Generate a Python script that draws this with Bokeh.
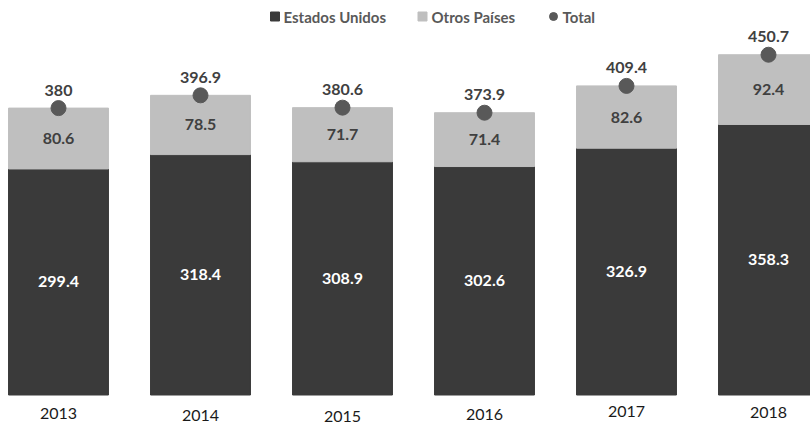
from bokeh.plotting import figure
from bokeh.models import ColumnDataSource, Range1d
from bokeh.core.properties import value
from bokeh.embed import file_html
from bokeh.resources import INLINE

# ---- data ----
years = ["2013", "2014", "2015", "2016", "2017", "2018"]
estados_unidos = [299.4, 318.4, 308.9, 302.6, 326.9, 358.3]
otros_paises = [80.6, 78.5, 71.7, 71.4, 82.6, 92.4]
totales = [380, 396.9, 380.6, 373.9, 409.4, 450.7]

# ---- layout constants ----
W, H = 810, 424
PX_PER_X = 142.0
PX_PER_Y = 0.755
FIRST_CENTER_PX = 58.0
XS = -FIRST_CENTER_PX / PX_PER_X
XE = XS + W / PX_PER_X
BASE_PY = 394.5
YE = BASE_PY / PX_PER_Y
YS = -(H - BASE_PY) / PX_PER_Y


def X(px):
    return XS + px / PX_PER_X


def Y(py):
    return (BASE_PY - py) / PX_PER_Y


DARK = "#3a3a3a"
LIGHT = "#bfbfbf"
DOT = "#595959"
LABEL = "#404040"
FONT = "Lato"

idx = list(range(len(years)))
src = ColumnDataSource(dict(
    x=idx,
    us=estados_unidos,
    otros=otros_paises,
    total=totales,
    us_mid=[u / 2 for u in estados_unidos],
    ot_mid=[u + o / 2 for u, o in zip(estados_unidos, otros_paises)],
    us_lbl=[f"{v:g}" for v in estados_unidos],
    ot_lbl=[f"{v:g}" for v in otros_paises],
    tot_lbl=[f"{v:g}" for v in totales],
))

p = figure(width=W, height=H, output_backend="svg", toolbar_location=None,
           x_range=Range1d(XS, XE), y_range=Range1d(YS, YE),
           x_axis_location=None, y_axis_location=None, min_border=0)
p.grid.visible = False
p.outline_line_color = None
p.background_fill_color = "white"
p.border_fill_color = "white"

p.vbar(x="x", bottom=0, top="us", width=0.704, source=src,
       fill_color=DARK, line_color=DARK)
p.vbar(x="x", bottom="us", top="total", width=0.704, source=src,
       fill_color=LIGHT, line_color=LIGHT)
p.scatter(x="x", y="total", size=15, source=src, fill_color=DOT, line_color=DOT)

p.text(x="x", y="us_mid", text="us_lbl", source=src, text_color="white",
       text_font=value(FONT), text_font_style="bold", text_font_size="16px",
       text_align="center", text_baseline="middle")
p.text(x="x", y="ot_mid", text="ot_lbl", source=src, text_color=LABEL,
       text_font=value(FONT), text_font_style="bold", text_font_size="16px",
       text_align="center", text_baseline="middle")
p.text(x="x", y="total", text="tot_lbl", source=src, text_color=LABEL,
       text_font=value(FONT), text_font_style="bold", text_font_size="16px",
       text_align="center", text_baseline="middle", y_offset=-18)

# year labels (slightly staggered as in the reference)
year_label_py = [413, 414.5, 415.5, 414, 411, 411.5]
p.text(x=idx, y=[Y(v) for v in year_label_py], text=years,
       text_color="#1a1a1a", text_font=value(FONT), text_font_size="16px",
       text_align="center", text_baseline="middle")

# legend (manual)
leg_y = Y(16)
p.scatter(x=[X(274.5)], y=[leg_y], marker="square", size=9,
          fill_color=DARK, line_color=DARK)
p.scatter(x=[X(422)], y=[leg_y], marker="square", size=9,
          fill_color=LIGHT, line_color=LIGHT)
p.scatter(x=[X(553)], y=[leg_y], marker="circle", size=8,
          fill_color=DOT, line_color=DOT)
p.text(x=[X(283), X(431), X(562)], y=[leg_y] * 3,
       text=["Estados Unidos", "Otros Países", "Total"],
       text_color="#595959", text_font=value(FONT), text_font_style="bold",
       text_font_size="15px", text_align="left", text_baseline="middle")

open("out.html", "w").write(file_html(p, INLINE))
